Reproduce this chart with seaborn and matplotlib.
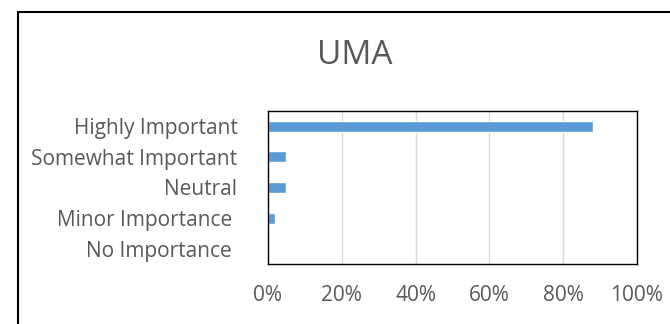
import matplotlib
matplotlib.use('Agg')
import matplotlib.pyplot as plt
import seaborn as sns
import pandas as pd
from matplotlib.ticker import PercentFormatter
from matplotlib.lines import Line2D

#------------------------------------------------------------------------------

categories = ['Highly Important', 'Somewhat Important', 'Neutral', 'Minor Importance ', 'No Importance ']
shares = [88, 5, 5, 2, 0]
x_ticks = [0, 20, 40, 60, 80, 100]
title = 'UMA'

#------------------------------------------------------------------------------

sns.set_theme(style='white')
plt.rcParams['font.family'] = ['Open Sans', 'DejaVu Sans']

df = pd.DataFrame({'Category': categories, 'Share': shares})

fig = plt.figure(figsize=(6.70, 3.24), dpi=100)
# plot area measured in pixels off the reference
ax = fig.add_axes([268 / 670, 1 - 264 / 324, (637 - 268) / 670, (264 - 111) / 324])

sns.barplot(data=df, x='Share', y='Category', color='#5b9bd5', saturation=1,
            width=0.36, orient='h', ax=ax)

ax.set_xlim(0, 100)
ax.set_xticks(x_ticks)
ax.xaxis.set_major_formatter(PercentFormatter(decimals=0))
ax.grid(axis='x', color='#d9d9d9', linewidth=1)
ax.set_axisbelow(True)
ax.set_xlabel('')
ax.set_ylabel('')
ax.tick_params(axis='both', length=0, labelsize=15, colors='#595959')
ax.tick_params(axis='x', pad=15)
ax.tick_params(axis='y', pad=22)
for s in ax.spines.values():
    s.set_visible(True)
    s.set_color('black')
    s.set_linewidth(1.0)

fig.text(355 / 670, 1 - 56 / 324, title, ha='center', va='center', fontsize=24, color='#595959')

# outer chart frame (only left and top edges fall inside the picture)
fig.add_artist(Line2D([18 / 670, 18 / 670], [0, 1 - 12 / 324], color='black', linewidth=1.5,
                      transform=fig.transFigure))
fig.add_artist(Line2D([18 / 670, 1], [1 - 12 / 324, 1 - 12 / 324], color='black', linewidth=1.5,
                      transform=fig.transFigure))

fig.savefig('out.png', dpi=100)
